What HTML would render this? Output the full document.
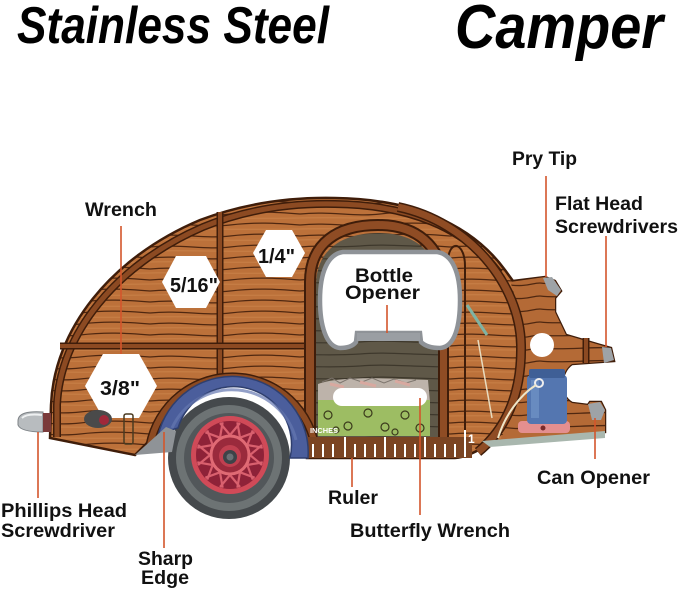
<!DOCTYPE html>
<html><head><meta charset="utf-8"><style>
html,body{margin:0;padding:0;background:#fff;width:679px;height:592px;overflow:hidden}
svg{display:block}
text{font-family:"Liberation Sans",Arial,sans-serif}
</style></head><body>
<svg width="679" height="592" viewBox="0 0 679 592" xmlns="http://www.w3.org/2000/svg">
<defs>
<pattern id="wood" width="150" height="11" patternUnits="userSpaceOnUse">
<rect width="150" height="11" fill="#bc713a"/>
<path d="M0,5 C30,2 55,8 80,5 S125,3 150,5" stroke="#4f2710" stroke-width="1.3" fill="none"/>
<path d="M0,9 C40,8 70,10 150,9" stroke="#d08a50" stroke-width="1" fill="none" opacity="0.6"/>
</pattern>
<pattern id="wood2" width="130" height="13" patternUnits="userSpaceOnUse" patternTransform="translate(20,4)">
<rect width="130" height="13" fill="#b46a36"/>
<path d="M0,6 C25,9 60,3 90,7 S120,6 130,6" stroke="#4f2710" stroke-width="1.3" fill="none"/>
</pattern>
<pattern id="dwood" width="120" height="12" patternUnits="userSpaceOnUse">
<rect width="120" height="12" fill="#5f5848"/>
<path d="M0,6 C30,3 70,9 120,6" stroke="#3e382c" stroke-width="1.2" fill="none"/>
</pattern>
</defs>

<!-- Title -->
<text x="17" y="43" font-size="52" font-weight="bold" font-style="italic" textLength="312" lengthAdjust="spacingAndGlyphs" fill="#000">Stainless Steel</text>
<text x="455" y="48" font-size="62" font-weight="bold" font-style="italic" textLength="208" lengthAdjust="spacingAndGlyphs" fill="#000">Camper</text>

<!-- Body silhouette -->
<path d="M50,438 L51,405 C54,330 110,258 200,220 C245,203 290,197 335,198 C410,199 470,222 505,270 L513,281 L545,277 L555,281 L561,291 L555,298 L555,312 L566,335 L600,345 L611,348 L614,361 L572,364 C560,372 558,395 572,403 L588,405 L590,402 L601,402 L605,410 L605,432 L497,441 C482,447 470,457 455,458 L307,458 A76,76 0 0 0 160,430 L135,455 Z" fill="url(#wood)" stroke="#3f1d0a" stroke-width="2.5"/>
<!-- tail region alt grain -->
<path d="M510,282 L545,277 L555,281 L561,291 L555,298 L555,312 L566,335 L600,345 L611,348 L614,361 L572,364 C560,372 558,395 572,403 L588,405 L590,402 L601,402 L605,410 L605,432 L500,440 C515,410 522,380 520,340 C518,310 515,292 510,282 Z" fill="url(#wood2)"/>

<!-- Door interior -->
<path d="M316,440 L316,285 C316,250 342,233 378,233 C414,233 436,250 440,285 L440,440 Z" fill="url(#dwood)"/>
<!-- pillows -->
<path d="M318,384 C340,376 380,378 428,380 L430,402 L318,402 Z" fill="#bdb3aa"/>
<path d="M322,382 l10,-4 l8,5 l10,-5 l12,4 l10,-4 l12,5 l10,-4 l12,4 l10,-3" stroke="#7d756d" stroke-width="1" fill="none"/>
<path d="M330,384 l14,3 M360,382 l16,4 M395,381 l15,4" stroke="#d8a9a0" stroke-width="3"/>
<!-- blanket -->
<rect x="318" y="400" width="112" height="36" fill="#9dbd63"/>
<g fill="none" stroke="#3b3a1c" stroke-width="1.2">
<circle cx="328" cy="415" r="4"/><circle cx="348" cy="426" r="4"/><circle cx="368" cy="413" r="4"/><circle cx="385" cy="427" r="4"/><circle cx="405" cy="415" r="4"/><circle cx="420" cy="428" r="4"/><circle cx="336" cy="430" r="3"/><circle cx="395" cy="432" r="3"/>
</g>
<!-- butterfly wrench slot -->
<rect x="333" y="388" width="94" height="18" rx="9" fill="#fff"/>

<!-- Frame bands -->
<g fill="none" stroke-linecap="butt">
<path d="M57,437 L57,405 C60,335 115,265 203,227 C247,209 291,203 335,204 C408,205 465,227 499,273" stroke="#3f1d0a" stroke-width="8"/>
<path d="M57,437 L57,405 C60,335 115,265 203,227 C247,209 291,203 335,204 C408,205 465,227 499,273" stroke="#8c4a22" stroke-width="5"/>
<!-- vertical divider -->
<path d="M220,212 L220,386" stroke="#3f1d0a" stroke-width="7"/>
<path d="M220,212 L220,386" stroke="#8c4a22" stroke-width="4"/>
<!-- horizontal divider -->
<path d="M60,346 L312,346" stroke="#3f1d0a" stroke-width="7"/>
<path d="M60,346 L312,346" stroke="#8c4a22" stroke-width="4"/>
<!-- door arch -->
<path d="M310,446 L310,282 C310,243 338,225 378,225 C416,225 442,245 444,285 L444,446" stroke="#3f1d0a" stroke-width="12"/>
<path d="M310,446 L310,282 C310,243 338,225 378,225 C416,225 442,245 444,285 L444,446" stroke="#8f4c24" stroke-width="8"/>
<!-- teardrop arc -->
<path d="M398,207 C470,222 520,285 521,345 C522,395 505,430 478,452" stroke="#3f1d0a" stroke-width="10"/>
<path d="M398,207 C470,222 520,285 521,345 C522,395 505,430 478,452" stroke="#8f4c24" stroke-width="7"/>
<!-- wheel-well band -->
<path d="M150,445 A84,84 0 0 1 316,452" stroke="#3f1d0a" stroke-width="9"/>
<path d="M150,445 A84,84 0 0 1 316,452" stroke="#8c4a22" stroke-width="6"/>
</g>
<!-- open door panel -->
<path d="M448,446 L448,262 C448,250 453,245 457,246 C462,248 465,256 465,266 L465,446 Z" fill="url(#wood)" stroke="#3f1d0a" stroke-width="2"/>
<g fill="none">
<path d="M467,305 L487,335" stroke="#7fb3a3" stroke-width="3"/>
<path d="M478,340 L492,418" stroke="#e8dcc0" stroke-width="1.5"/>
<path d="M586,338 L586,363" stroke="#3f1d0a" stroke-width="7"/>
<path d="M586,338 L586,363" stroke="#8c4a22" stroke-width="4"/>
</g>

<!-- Bottle opener -->
<path d="M343,252 L437,252 C452,254 460,272 460,300 C460,325 455,347 440,348 C430,348 424,345 421,342 L420,333 L357,333 L356,342 C353,346 347,348 340,348 C326,347 320,325 320,300 C320,272 328,254 343,252 Z" fill="#fff" stroke="#8f9398" stroke-width="4.5"/>
<rect x="357" y="333" width="63" height="8" fill="#9a9ea3"/>

<!-- Hexagons -->
<polygon points="253,253 266,230 292,230 305,253 292,277 266,277" fill="#fff"/>
<polygon points="162,282 176,256 206,256 220,282 206,308 176,308" fill="#fff"/>
<polygon points="85,386 103,354 139,354 157,386 139,418 103,418" fill="#fff"/>
<text x="258" y="263" font-size="20" font-weight="bold" textLength="37" lengthAdjust="spacingAndGlyphs" fill="#111">1/4"</text>
<text x="170" y="292" font-size="20" font-weight="bold" textLength="48" lengthAdjust="spacingAndGlyphs" fill="#111">5/16"</text>
<text x="100" y="395" font-size="20" font-weight="bold" textLength="40" lengthAdjust="spacingAndGlyphs" fill="#111">3/8"</text>

<!-- Tail details -->
<circle cx="542" cy="345" r="12" fill="#fff"/>
<polygon points="543,278 552,277 561,290 557,296 548,290" fill="#9ea3a7"/>
<polygon points="602,347 611,348 614,360 604,363" fill="#9ea3a7"/>
<polygon points="588,404 600,402 605,410 601,420 592,420" fill="#9ea3a7"/>
<path d="M482,441 L605,431 L605,438 L490,447 Z" fill="#a9b7ae"/>
<rect x="518" y="421" width="52" height="12" rx="4" fill="#e48f8f"/>
<rect x="527" y="375" width="40" height="49" rx="4" fill="#5476b0"/>
<rect x="529" y="369" width="36" height="9" rx="2" fill="#3f5f96"/>
<rect x="531" y="380" width="8" height="38" fill="#7094c8" opacity="0.7"/>
<circle cx="539" cy="383" r="4" fill="none" stroke="#eee" stroke-width="2"/>
<path d="M536,385 C520,395 505,415 498,438" stroke="#efe6c8" stroke-width="2" fill="none"/>
<circle cx="543" cy="428" r="2.5" fill="#7a2a2a"/>

<!-- Ruler -->
<rect x="300" y="437" width="172" height="21" fill="#7b4422"/>
<g stroke="#fff" stroke-width="2">
<line x1="303" y1="430" x2="303" y2="457"/><line x1="465" y1="430" x2="465" y2="457"/>
<line x1="345" y1="437" x2="345" y2="457"/><line x1="385" y1="437" x2="385" y2="457"/><line x1="425" y1="437" x2="425" y2="457"/>
<line x1="313" y1="444" x2="313" y2="457"/><line x1="323" y1="444" x2="323" y2="457"/><line x1="333" y1="444" x2="333" y2="457"/>
<line x1="355" y1="444" x2="355" y2="457"/><line x1="365" y1="444" x2="365" y2="457"/><line x1="375" y1="444" x2="375" y2="457"/>
<line x1="395" y1="444" x2="395" y2="457"/><line x1="405" y1="444" x2="405" y2="457"/><line x1="415" y1="444" x2="415" y2="457"/>
<line x1="435" y1="444" x2="435" y2="457"/><line x1="445" y1="444" x2="445" y2="457"/><line x1="455" y1="444" x2="455" y2="457"/>
</g>
<text x="310" y="433" font-size="7" font-weight="bold" fill="#fff" textLength="28" lengthAdjust="spacingAndGlyphs">INCHES</text>
<text x="468" y="443" font-size="12" font-weight="bold" fill="#fff">1</text>

<!-- Wheel -->
<circle cx="229" cy="458" r="61" fill="#45494c"/>
<circle cx="229" cy="458" r="53" fill="#6d7374"/>
<circle cx="229" cy="458" r="45" fill="#52575a"/>
<circle cx="230" cy="455" r="39" fill="#d04a58"/>
<circle cx="230" cy="455" r="34" fill="#8e2238"/>
<g stroke="#d9606e" stroke-width="2.2" transform="translate(230,455)">
<line x1="0" y1="-20" x2="10" y2="-32"/><line x1="0" y1="-20" x2="-10" y2="-32"/>
<g transform="rotate(30)"><line x1="0" y1="-20" x2="10" y2="-32"/><line x1="0" y1="-20" x2="-10" y2="-32"/></g>
<g transform="rotate(60)"><line x1="0" y1="-20" x2="10" y2="-32"/><line x1="0" y1="-20" x2="-10" y2="-32"/></g>
<g transform="rotate(90)"><line x1="0" y1="-20" x2="10" y2="-32"/><line x1="0" y1="-20" x2="-10" y2="-32"/></g>
<g transform="rotate(120)"><line x1="0" y1="-20" x2="10" y2="-32"/><line x1="0" y1="-20" x2="-10" y2="-32"/></g>
<g transform="rotate(150)"><line x1="0" y1="-20" x2="10" y2="-32"/><line x1="0" y1="-20" x2="-10" y2="-32"/></g>
<g transform="rotate(180)"><line x1="0" y1="-20" x2="10" y2="-32"/><line x1="0" y1="-20" x2="-10" y2="-32"/></g>
<g transform="rotate(210)"><line x1="0" y1="-20" x2="10" y2="-32"/><line x1="0" y1="-20" x2="-10" y2="-32"/></g>
<g transform="rotate(240)"><line x1="0" y1="-20" x2="10" y2="-32"/><line x1="0" y1="-20" x2="-10" y2="-32"/></g>
<g transform="rotate(270)"><line x1="0" y1="-20" x2="10" y2="-32"/><line x1="0" y1="-20" x2="-10" y2="-32"/></g>
<g transform="rotate(300)"><line x1="0" y1="-20" x2="10" y2="-32"/><line x1="0" y1="-20" x2="-10" y2="-32"/></g>
<g transform="rotate(330)"><line x1="0" y1="-20" x2="10" y2="-32"/><line x1="0" y1="-20" x2="-10" y2="-32"/></g>
</g>
<circle cx="230" cy="455" r="19" fill="#9a2a3c" stroke="#e06a74" stroke-width="3"/>
<circle cx="230" cy="456" r="11" fill="#c04050"/>
<circle cx="230" cy="457" r="7" fill="#3e4348"/>
<circle cx="230" cy="457" r="3.5" fill="#6a7075"/>

<!-- Fender -->
<path d="M158,436 A76,76 0 0 1 308,458 L290,458 A58,58 0 0 0 178,428 C170,430 163,434 158,436 Z" fill="#4b5e9c" stroke="#2f3f6e" stroke-width="1.5"/>
<path d="M172,428 A66,66 0 0 1 296,440" fill="none" stroke="#6577b0" stroke-width="3" opacity="0.7"/>
<!-- Sharp edge -->
<polygon points="135,455 156,436 166,427 176,431 172,452" fill="#8f9397"/>
<!-- Bumper -->
<path d="M18,421 C18,413 28,411 43,412 L43,432 C30,432 20,430 18,425 Z" fill="#b8bcbf" stroke="#7d8286" stroke-width="1"/>
<path d="M22,418 C26,414 34,414 42,415" stroke="#eef0f1" stroke-width="2" fill="none"/>
<rect x="43" y="413" width="8" height="19" fill="#7a3a3a"/>
<!-- Taillight -->
<ellipse cx="98" cy="419" rx="14" ry="9" fill="#4a4a4a"/>
<circle cx="104" cy="420" r="5" fill="#a0283a"/>
<rect x="124" y="414" width="9" height="30" rx="2" fill="none" stroke="#4a3a20" stroke-width="1.5"/>

<!-- Leader lines -->
<g stroke="#d4552b" stroke-width="1.6">
<line x1="121" y1="226" x2="121" y2="354"/>
<line x1="546" y1="176" x2="546" y2="277"/>
<line x1="606" y1="236" x2="606" y2="347"/>
<line x1="387" y1="305" x2="387" y2="333"/>
<line x1="38" y1="432" x2="38" y2="498"/>
<line x1="164" y1="432" x2="164" y2="548"/>
<line x1="352" y1="458" x2="352" y2="487"/>
<line x1="420" y1="398" x2="420" y2="515"/>
<line x1="595" y1="418" x2="595" y2="459"/>
</g>

<!-- Labels -->
<g font-size="19" font-weight="bold" fill="#111">
<text x="85" y="216" textLength="72" lengthAdjust="spacingAndGlyphs">Wrench</text>
<text x="512" y="165" textLength="65" lengthAdjust="spacingAndGlyphs">Pry Tip</text>
<text x="555" y="210" textLength="88" lengthAdjust="spacingAndGlyphs">Flat Head</text>
<text x="555" y="233" textLength="123" lengthAdjust="spacingAndGlyphs">Screwdrivers</text>
<text x="355" y="282" textLength="58" lengthAdjust="spacingAndGlyphs">Bottle</text>
<text x="345" y="299" textLength="75" lengthAdjust="spacingAndGlyphs">Opener</text>
<text x="1" y="517" textLength="126" lengthAdjust="spacingAndGlyphs">Phillips Head</text>
<text x="1" y="537" textLength="114" lengthAdjust="spacingAndGlyphs">Screwdriver</text>
<text x="138" y="565" textLength="55" lengthAdjust="spacingAndGlyphs">Sharp</text>
<text x="141" y="584" textLength="48" lengthAdjust="spacingAndGlyphs">Edge</text>
<text x="328" y="504" textLength="50" lengthAdjust="spacingAndGlyphs">Ruler</text>
<text x="350" y="537" textLength="160" lengthAdjust="spacingAndGlyphs">Butterfly Wrench</text>
<text x="537" y="484" textLength="113" lengthAdjust="spacingAndGlyphs">Can Opener</text>
</g>
</svg>
</body></html>
